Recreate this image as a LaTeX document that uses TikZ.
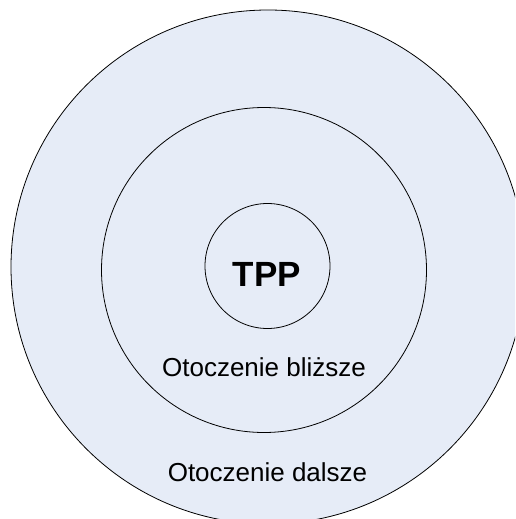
\documentclass[tikz,border=0pt]{standalone}
\usepackage{fontspec}
\setmainfont{Liberation Sans}
\definecolor{zonefill}{HTML}{E6ECF7}
\begin{document}
\begin{tikzpicture}[x=1pt,y=-1pt,
  zone/.style={draw=black,line width=0.8pt,fill=zonefill},
  zonelabel/.style={anchor=base,inner sep=0pt,font=\fontsize{26}{30}\selectfont},
  corelabel/.style={anchor=base,inner sep=0pt,font=\fontsize{35}{40}\selectfont\bfseries}]
  \useasboundingbox (0,0) rectangle (515,519);
  \clip (0,0) rectangle (515,519);
  % nested zones, outermost first
  \draw[zone] (268,267) circle[radius=257];
  \draw[zone] (264,270) circle[radius=162.5];
  \draw[zone] (267.5,266) circle[radius=62.5];
  % labels
  \node[corelabel] (tpp) at (267,286) {TPP};
  \node[zonelabel] (near) at (264,376) {Otoczenie bliższe};
  \node[zonelabel] (far) at (267.5,481) {Otoczenie dalsze};
\end{tikzpicture}
\end{document}
